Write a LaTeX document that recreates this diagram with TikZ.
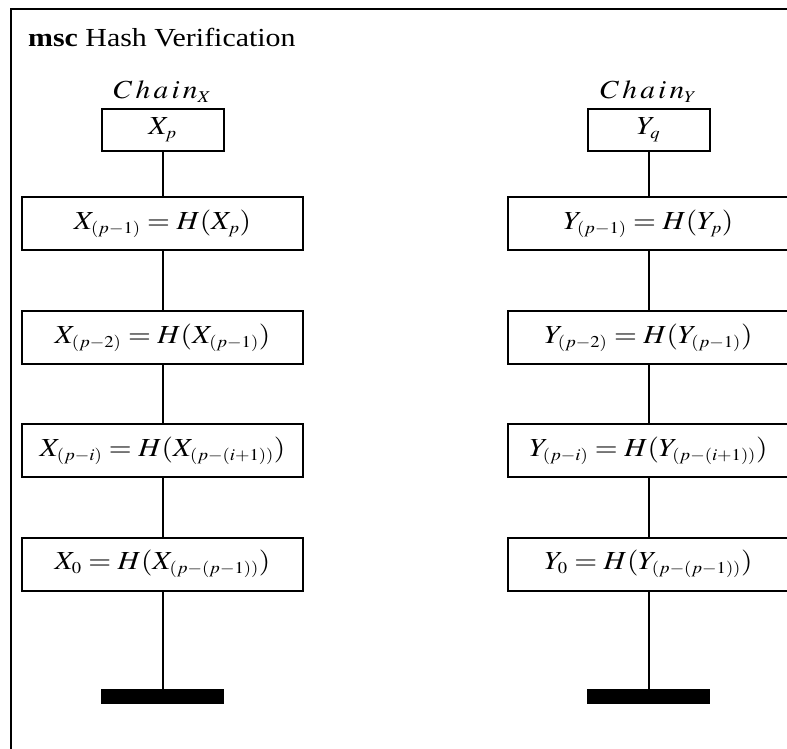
\documentclass[tikz,border=0pt]{standalone}
\usepackage{mathptmx}
\usepackage[no-math]{fontspec}
\setmainfont{Liberation Serif}[FakeStretch=1.15]
% sub-script sizes for the 26pt formulas
\DeclareMathSizes{26}{26}{16.5}{12}
% math set a little wider than plain Times
\newcommand{\widemath}[1]{\scalebox{1.13}[1]{$#1$}}
\begin{document}
\begin{tikzpicture}[x=1pt,y=-1pt,
  every node/.style={font=\fontsize{26}{30}\selectfont},
  line/.style={line width=2pt},
  hashbox/.style={draw,line width=2pt,fill=white,minimum width=281pt,minimum height=53pt,inner sep=0pt},
  headbox/.style={draw,line width=2pt,fill=white,minimum width=122pt,minimum height=42pt,inner sep=0pt},
  stopbar/.style={fill=black,minimum width=123pt,minimum height=15pt,inner sep=0pt,anchor=north}]
\useasboundingbox (0,0) rectangle (787,749);
% diagram frame
\draw[line] (11,9) rectangle (820,780);
\node[anchor=base west,inner sep=0pt] (title) at (28,47) {\textbf{msc} Hash Verification};

% instance Chain_X
\node[anchor=base] (lx) at (162.5,99) {\widemath{C\,h\,a\,i\,n_X}};
\node[headbox] (x1) at (162.5,130) {\widemath{X_p}};
\node[hashbox] (x2) at (162.5,223.5) {\widemath{X_{(p-1)} = H(X_p)}};
\node[hashbox] (x3) at (162.5,337.5) {\widemath{X_{(p-2)} = H(X_{(p-1)})}};
\node[hashbox] (x4) at (162.5,450.5) {\widemath{X_{(p-i)} = H(X_{(p-(i+1))})}};
\node[hashbox] (x5) at (162.5,564) {\widemath{X_0 = H(X_{(p-(p-1))})}};
\node[stopbar] (xe) at (162.5,689) {};
\draw[line] (x1) -- (x2);
\draw[line] (x2) -- (x3);
\draw[line] (x3) -- (x4);
\draw[line] (x4) -- (x5);
\draw[line] (x5) -- (xe);

% instance Chain_Y
\node[anchor=base] (ly) at (648.5,99) {\widemath{C\,h\,a\,i\,n_Y}};
\node[headbox] (y1) at (648.5,130) {\widemath{Y_q}};
\node[hashbox] (y2) at (648.5,223.5) {\widemath{Y_{(p-1)} = H(Y_p)}};
\node[hashbox] (y3) at (648.5,337.5) {\widemath{Y_{(p-2)} = H(Y_{(p-1)})}};
\node[hashbox] (y4) at (648.5,450.5) {\widemath{Y_{(p-i)} = H(Y_{(p-(i+1))})}};
\node[hashbox] (y5) at (648.5,564) {\widemath{Y_0 = H(Y_{(p-(p-1))})}};
\node[stopbar] (ye) at (648.5,689) {};
\draw[line] (y1) -- (y2);
\draw[line] (y2) -- (y3);
\draw[line] (y3) -- (y4);
\draw[line] (y4) -- (y5);
\draw[line] (y5) -- (ye);
\end{tikzpicture}
\end{document}
